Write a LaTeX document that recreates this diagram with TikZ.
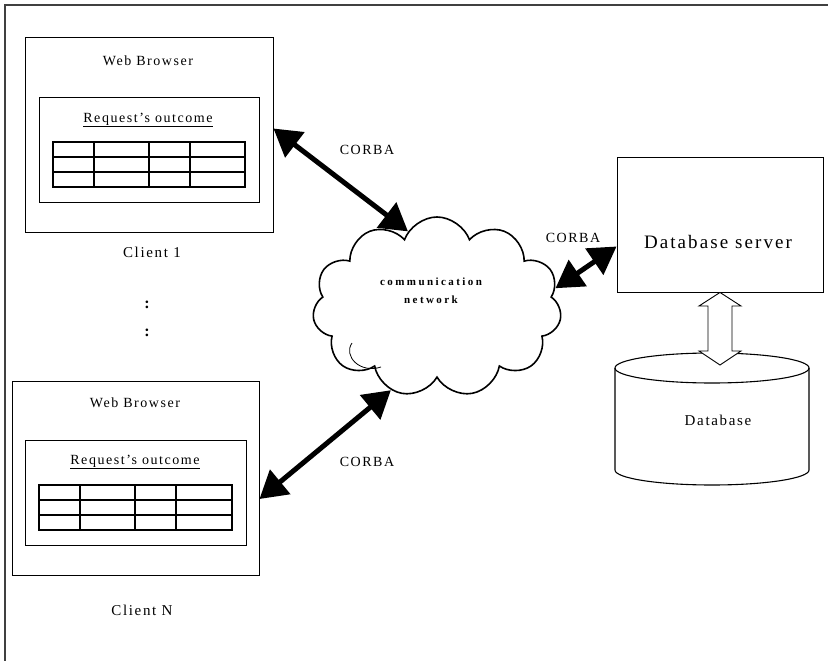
\documentclass[tikz,border=0pt]{standalone}
\usepackage{fontspec}
\setmainfont[LetterSpace=11]{Liberation Serif}
\newfontfamily\widespaced[LetterSpace=22]{Liberation Serif}
\usetikzlibrary{arrows.meta,shapes.symbols}
\begin{document}
\begin{tikzpicture}[x=1pt,y=1pt,
  frame/.style={draw=black!75, line width=1.4pt},
  box/.style={draw, line width=0.9pt, inner sep=0pt},
  gridline/.style={line width=1.1pt},
  txt/.style={inner sep=0pt, font=\fontsize{14}{16}\selectfont},
  client/.style={inner sep=0pt, font=\fontsize{15}{17}\selectfont},
  big/.style={inner sep=0pt, font=\fontsize{19}{22}\selectfont},
  small/.style={inner sep=0pt, font=\widespaced\fontsize{11}{13}\selectfont\bfseries},
  dots/.style={inner sep=0pt, font=\fontsize{16}{18}\selectfont\bfseries},
  corba/.style={line width=5pt,
    {Triangle[length=27pt,width=31pt]}-{Triangle[length=27pt,width=31pt]}},
]
\useasboundingbox (0,0) rectangle (828,-661);
% page frame (top and left edges)
\draw[frame] (828,-5) -- (5,-5) -- (5,-661);

% ---- Client 1 ----
\node[box, minimum width=248pt, minimum height=195pt] (b1) at (149,-134.5) {};
\node[box, minimum width=220pt, minimum height=105pt] (r1) at (149,-149.5) {};
\node[txt] (wb1) at (148,-61) {Web Browser};
\node[txt] (ro1) at (148,-120) {\underline{Request's outcome}};
\draw[gridline] (53,-142) rectangle (245,-187);
\draw[gridline] (53,-157) -- (245,-157) (53,-172) -- (245,-172);
\draw[gridline] (94,-142) -- (94,-187) (149,-142) -- (149,-187) (190,-142) -- (190,-187);
\node[client] (c1) at (152,-252) {Client 1};

% ---- ellipsis ----
\node[dots] (d1) at (147,-305) {:};
\node[dots] (d2) at (147,-333) {:};

% ---- Client N ----
\node[box, minimum width=247pt, minimum height=194pt] (bN) at (135.5,-478) {};
\node[box, minimum width=221pt, minimum height=105pt] (rN) at (135.5,-492.5) {};
\node[txt] (wbN) at (135,-403) {Web Browser};
\node[txt] (roN) at (135,-462) {\underline{Request's outcome}};
\draw[gridline] (39,-485) rectangle (232,-530);
\draw[gridline] (39,-500) -- (232,-500) (39,-515) -- (232,-515);
\draw[gridline] (80,-485) -- (80,-530) (135,-485) -- (135,-530) (176,-485) -- (176,-530);
\node[client] (cN) at (142,-610) {Client N};

% ---- network cloud ----
\node[cloud, draw, line width=1.6pt, cloud puffs=11, cloud puff arc=140,
      aspect=1.4, minimum width=249pt, minimum height=180pt, inner sep=0pt]
      (net) at (437,-307) {};
\node[small] (nt1) at (431,-282) {communication};
\node[small] (nt2) at (431,-300) {network};
\draw[line width=0.8pt] (352,-343) .. controls (343,-356) and (360,-374) .. (381,-367);

% ---- server and database ----
\node[box, minimum width=206pt, minimum height=135pt] (srv) at (720,-224.5) {};
\node[big] (srvl) at (718,-242) {Database server};
\draw[line width=1.1pt] (615,-368) -- (615,-470)
  arc[start angle=180, end angle=360, x radius=97, y radius=15] -- (809,-368);
\draw[line width=1.1pt] (712,-368) ellipse [x radius=97, y radius=15];
\node[client] (dbl) at (718,-420) {Database};
\coordinate (dbtop) at (720,-365);
\draw[line width=0.9pt, fill=white] (srv.south) -- (741,-306) -- (732,-306) -- (732,-351)
  -- (741,-351) -- (dbtop) -- (699,-351) -- (708,-351) -- (708,-306) -- (699,-306) -- cycle;

% ---- CORBA links ----
\draw[corba] ([yshift=6pt]b1.east) -- (net.111);
\draw[corba] ([yshift=-21pt]bN.east) -- (net.241);
\draw[corba] (net.9) -- ([yshift=-22pt]srv.west);
\node[txt] (k1) at (367,-150) {CORBA};
\node[txt] (k2) at (367,-462) {CORBA};
\node[txt] (k3) at (573,-238) {CORBA};
\end{tikzpicture}
\end{document}
